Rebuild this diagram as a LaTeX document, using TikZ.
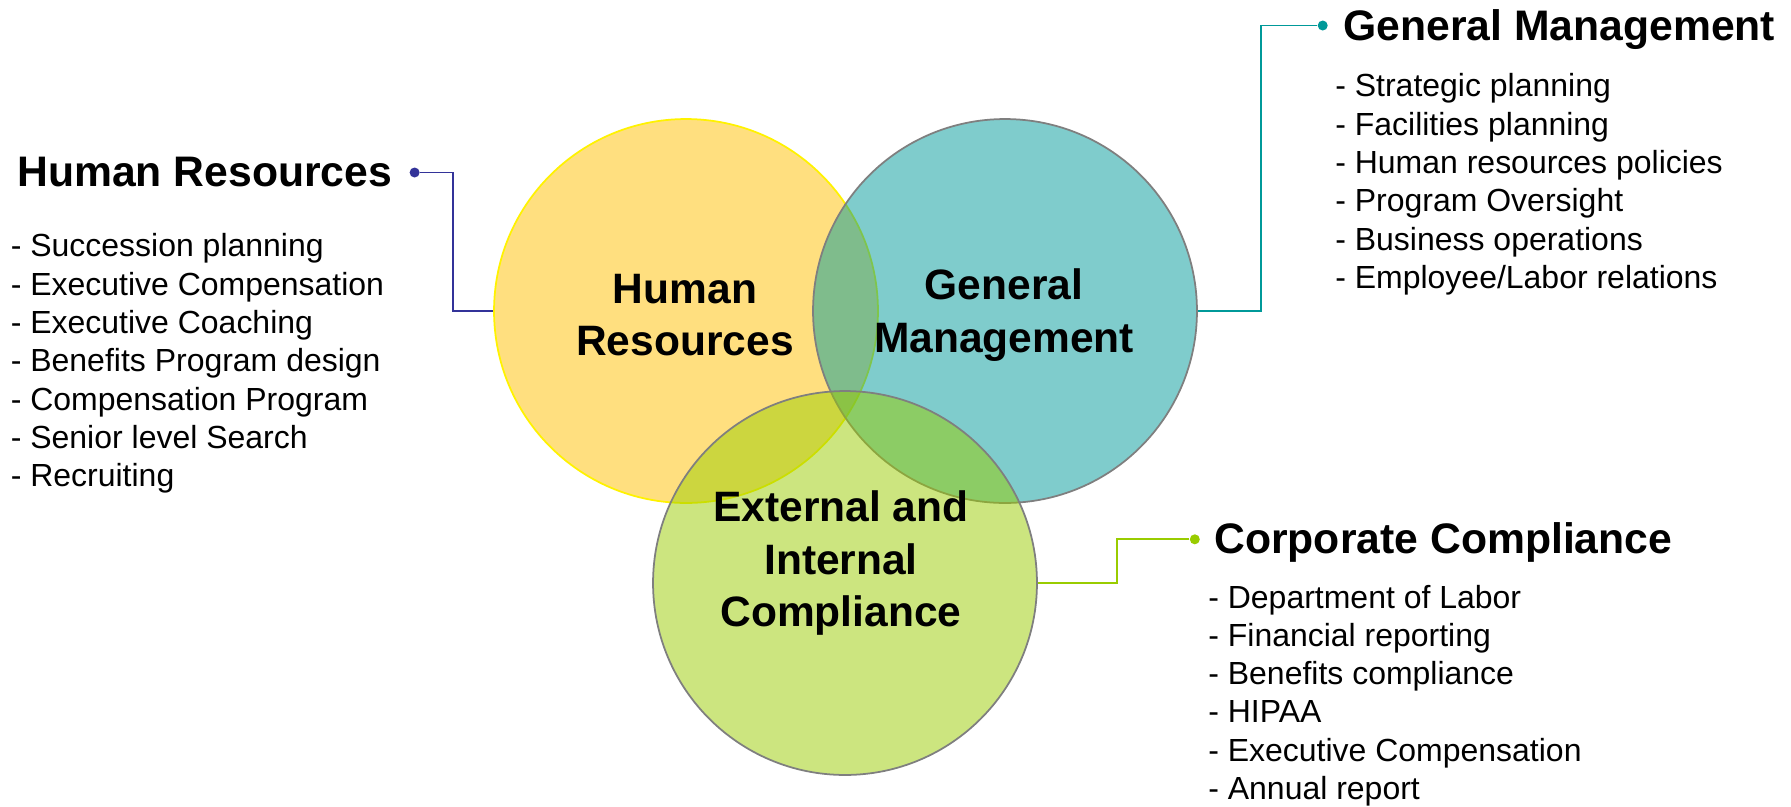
\documentclass[tikz,border=0pt]{standalone}
\usepackage{fontspec}
\setmainfont{Liberation Sans}

\definecolor{hrfill}{HTML}{FFC000}
\definecolor{gmfill}{HTML}{009999}
\definecolor{eicfill}{HTML}{99CC00}
\definecolor{hrline}{HTML}{333399}
\definecolor{ringgray}{HTML}{7F7F7F}

\tikzset{
    venn/.style={circle, minimum size=7.68cm, inner sep=0pt, line width=1pt, fill opacity=0.5},
    lbl/.style={font=\bfseries\fontsize{24.2}{29.8}\selectfont, align=center},
    head/.style={font=\bfseries\fontsize{24.3}{28}\selectfont, anchor=base west, inner sep=0pt},
    item/.style={font=\fontsize{18.2}{21.8}\selectfont, anchor=base west, inner sep=0pt},
    enddot/.style={circle, inner sep=0pt, minimum size=0.2cm},
    link/.style={line width=1pt},
}

\begin{document}
\begin{tikzpicture}[x=0.02cm, y=-0.02cm]
    \useasboundingbox (0,0) rectangle (1791,806);

    % Circles
    \node[venn, draw=yellow, fill=hrfill] (hr) at (686,311) {};
    \node[venn, draw=ringgray, fill=gmfill] (gm) at (1005,311) {};
    \node[venn, draw=ringgray, fill=eicfill] (eic) at (845,583) {};

    % Circle labels
    \node[lbl] (hrlbl) at (685,315) {Human\\Resources};
    \node[lbl] (gmlbl) at (1004,315) {General\\Management};
    \node[lbl] (eiclbl) at (841,563) {External and\\Internal\\Compliance};

    % End dots
    \node[enddot, fill=hrline] (hrdot) at (414.6,172.5) {};
    \node[enddot, fill=gmfill] (gmdot) at (1322.7,25.5) {};
    \node[enddot, fill=eicfill] (ccdot) at (1194.8,539.3) {};

    % Connectors
    \draw[link, hrline] (hr.west) -- ++(-40,0) |- (hrdot);
    \draw[link, gmfill] (gm.east) -- ++(63,0) |- (gmdot);
    \draw[link, eicfill] (eic.east) -- ++(79,0) |- (ccdot);

    % Headings
    \node[head] (hrhead) at (17,186.5) {Human Resources};
    \node[head] (gmhead) at (1343,40.5) {General Management};
    \node[head] (cchead) at (1214,553.5) {Corporate Compliance};

    % Lists
    \foreach \t [count=\i from 0] in {Succession planning, Executive Compensation,
        Executive Coaching, Benefits Program design, Compensation Program,
        Senior level Search, Recruiting}
        \node[item] (hritem\i) at (10.5,256.7+38.33*\i) {- \t};
    \foreach \t [count=\i from 0] in {Strategic planning, Facilities planning,
        Human resources policies, Program Oversight, Business operations,
        Employee/Labor relations}
        \node[item] (gmitem\i) at (1335,96.7+38.33*\i) {- \t};
    \foreach \t [count=\i from 0] in {Department of Labor, Financial reporting,
        Benefits compliance, HIPAA, Executive Compensation, Annual report}
        \node[item] (ccitem\i) at (1208,608.3+38.2*\i) {- \t};
\end{tikzpicture}
\end{document}
